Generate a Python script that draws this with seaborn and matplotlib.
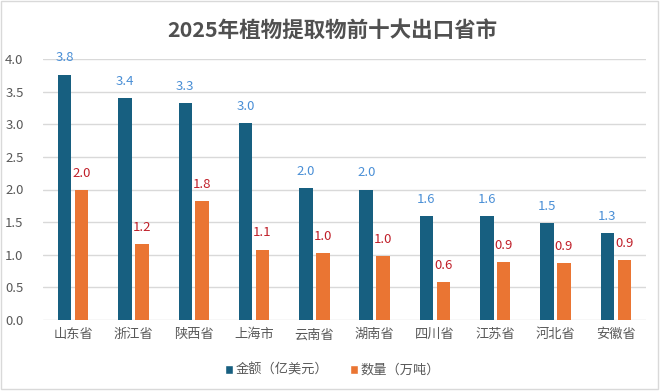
import matplotlib
matplotlib.use("Agg")
import matplotlib.pyplot as plt
import seaborn as sns
import pandas as pd
from matplotlib.patches import Rectangle, Patch

provinces = ["山东省", "浙江省", "陕西省", "上海市", "云南省", "湖南省", "四川省", "江苏省", "河北省", "安徽省"]
amount = [3.76, 3.40, 3.33, 3.02, 2.02, 2.00, 1.59, 1.59, 1.49, 1.33]
volume = [1.99, 1.16, 1.82, 1.08, 1.03, 0.98, 0.58, 0.89, 0.87, 0.92]
amount_labels = ["3.8", "3.4", "3.3", "3.0", "2.0", "2.0", "1.6", "1.6", "1.5", "1.3"]
volume_labels = ["2.0", "1.2", "1.8", "1.1", "1.0", "1.0", "0.6", "0.9", "0.9", "0.9"]
series = ["金额（亿美元）", "数量（万吨）"]
title = "2025年植物提取物前十大出口省市"
yticks = [0.0, 0.5, 1.0, 1.5, 2.0, 2.5, 3.0, 3.5, 4.0]

sns.set_theme(style="white")
plt.rcParams['font.family'] = ['Noto Sans CJK SC', 'DejaVu Sans']

df = pd.DataFrame({
    "省市": provinces * 2,
    "值": amount + volume,
    "系列": [series[0]] * len(provinces) + [series[1]] * len(provinces),
})

blue = "#175f80"
orange = "#ea7533"
fig = plt.figure(figsize=(6.65, 3.92), dpi=100)
ax = fig.add_axes([43/665, 1-320/392, (646-43)/665, (320-59)/392])

sns.barplot(data=df, x="省市", y="值", hue="系列", palette=[blue, orange],
            width=0.56, gap=0.2, ax=ax, legend=False, saturation=1, linewidth=0)

ax.set_ylim(0, 4.0)
ax.set_xlim(-0.5, len(provinces) - 0.5)
ax.set_yticks(yticks)
ax.set_yticklabels([f"{v:.1f}" for v in yticks])
ax.yaxis.grid(True, color="#d9d9d9", linewidth=1)
ax.set_axisbelow(True)
for s in ax.spines.values():
    s.set_visible(False)
ax.set_xlabel("")
ax.set_ylabel("")
ax.tick_params(axis="both", length=0, labelsize=9.5, colors="#595959")
ax.tick_params(axis="y", pad=14)
ax.tick_params(axis="x", pad=6)

label_colors = ["#4a8fd6", "#c0202a"]
for container, labels, c in zip(ax.containers, [amount_labels, volume_labels], label_colors):
    for bar, lab in zip(container, labels):
        ax.annotate(lab, (bar.get_x() + bar.get_width()/2, bar.get_height()),
                    xytext=(0, 12), textcoords="offset points",
                    ha="center", va="center", fontsize=9.5, color=c)

handles = [Patch(facecolor=blue), Patch(facecolor=orange)]
fig.legend(handles, series, loc="center", bbox_to_anchor=(0.5, 0.055), ncol=2,
           frameon=False, fontsize=9.5, handlelength=0.6, handleheight=0.6,
           handletextpad=0.2, columnspacing=1.6, labelcolor="#595959")

fig.text(0.5, 1-30/392, title, ha="center", va="center", fontsize=15.5,
         fontweight="bold", color="#505050")

fig.patches.append(Rectangle((0.5/665, 1-389/392), 657/665, 388.5/392, transform=fig.transFigure,
                             fill=False, edgecolor="#d9d9d9", linewidth=1))

fig.savefig("out.png", dpi=100)
